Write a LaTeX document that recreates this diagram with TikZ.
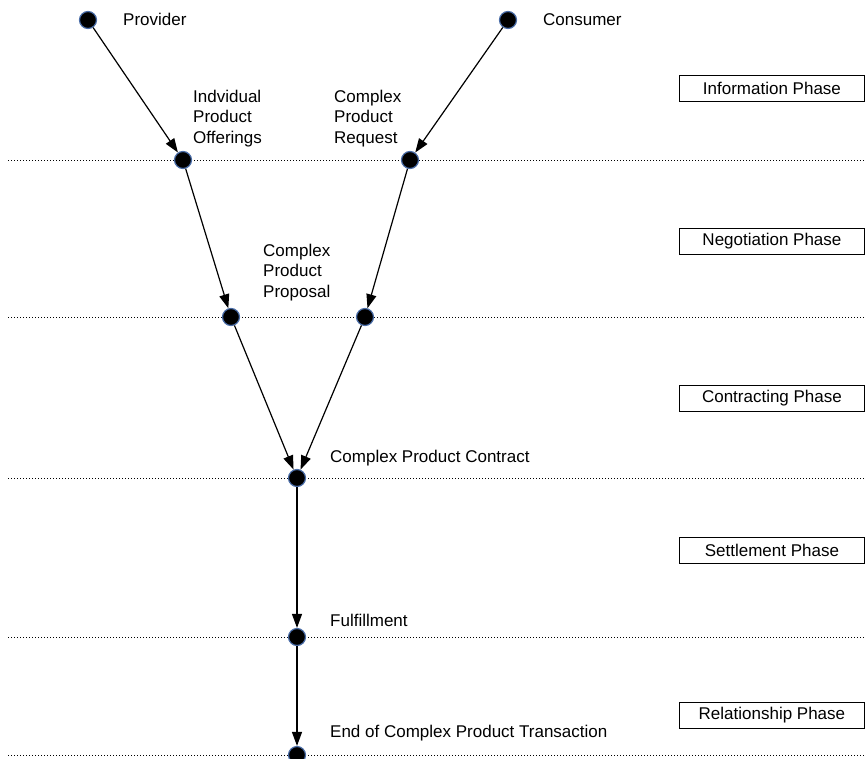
\documentclass[tikz,border=0pt]{standalone}
\usepackage{fontspec}
\setmainfont{Liberation Sans}
\usepackage{xcolor}
\usetikzlibrary{arrows.meta,positioning}
\definecolor{dotrim}{HTML}{4A6DA8}

\begin{document}
\begin{tikzpicture}[
    x=1pt, y=-1pt,
    dot/.style={
        circle, fill=black, draw=dotrim, line width=1.2pt,
        minimum size=17pt, inner sep=0pt
    },
    lbl/.style={
        inner sep=0pt, align=left,
        font=\fontsize{17}{20.5}\selectfont
    },
    phasebox/.style={
        rectangle, draw=black, line width=0.9pt,
        minimum width=185pt, minimum height=26pt,
        inner sep=0pt, anchor=west,
        font=\fontsize{17}{20}\selectfont
    },
    sepline/.style={dotted, line width=1pt},
    arr/.style={-{Triangle[length=14pt,width=10pt]}, line width=1.2pt, color=black},
]
\useasboundingbox (0,0) rectangle (865,758);

% phase separators
\foreach \y in {160,317,478,637,755}
  \draw[sepline] (8,\y) -- (865,\y);

% phase labels
\node[phasebox] (info) at (679,88) {Information Phase};
\node[phasebox] (nego) at (679,241) {Negotiation Phase};
\node[phasebox] (contr) at (679,398) {Contracting Phase};
\node[phasebox] (settl) at (679,550) {Settlement Phase};
\node[phasebox] (relat) at (679,715) {Relationship Phase};

% event points
\node[dot] (prov) at (88,20) {};
\node[dot] (cons) at (508,20) {};
\node[dot] (offer) at (183,160) {};
\node[dot] (req) at (410,160) {};
\node[dot] (propl) at (231,317) {};
\node[dot] (propr) at (365,317) {};
\node[dot] (contract) at (297,478) {};
\node[dot] (fulfil) at (297,637) {};
\node[dot] (end) at (297,755) {};

% texts
\node[lbl, anchor=base west] (tprov) at (123,25) {Provider};
\node[lbl, anchor=base west] (tcons) at (543,25) {Consumer};
\node[lbl, anchor=north west] (toffer) at (193,89.5) {Indvidual\\Product\\Offerings};
\node[lbl, anchor=north west] (treq) at (334,89.5) {Complex\\Product\\Request};
\node[lbl, anchor=north west] (tprop) at (263,243.5) {Complex\\Product\\Proposal};
\node[lbl, anchor=base west] (tcontract) at (330,462) {Complex Product Contract};
\node[lbl, anchor=base west] (tfulfil) at (330,626) {Fulfillment};
\node[lbl, anchor=base west] (tend) at (330,737) {End of Complex Product Transaction};

\foreach \a/\b in {prov/offer, cons/req, offer/propl, req/propr,
                   propl/contract, propr/contract, contract/fulfil, fulfil/end}
  \draw[arr] (\a) -- (\b);

\end{tikzpicture}
\end{document}
